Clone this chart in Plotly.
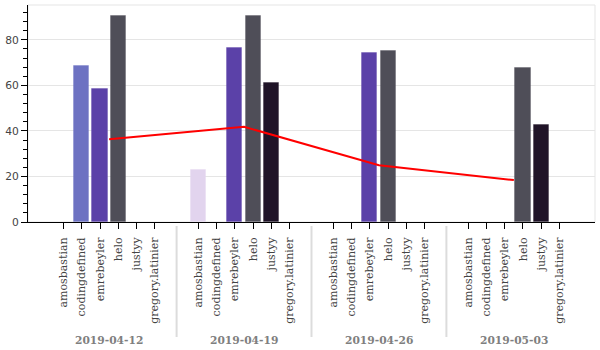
import plotly.graph_objects as go

dates = ["2019-04-12", "2019-04-19", "2019-04-26", "2019-05-03"]
names = ["amosbastian", "codingdefined", "emrebeyler", "helo", "justyy", "gregory.latinier"]
values_0412 = [None, 68.7, 58.4, 90.6, None, None]
values_0419 = [22.7, None, 76.6, 90.6, 61.2, None]
values_0426 = [None, None, 74.4, 75.0, None, None]
values_0503 = [None, None, None, 67.5, 42.7, None]
mean_line = [36.3, 41.8, 24.9, 18.4]
name_colors = {
    "amosbastian": (226, 212, 238),
    "codingdefined": (109, 114, 194),
    "emrebeyler": (91, 65, 168),
    "helo": (79, 78, 88),
    "justyy": (32, 20, 40),
    "gregory.latinier": (180, 180, 180),
}

groups = [values_0412, values_0419, values_0426, values_0503]
GROUP_PAD = 1.4
step = len(names) + GROUP_PAD

bx, by, fill, edge = [], [], [], []
tickvals, ticktext = [], []
for g, vals in enumerate(groups):
    for i, (n, v) in enumerate(zip(names, vals)):
        pos = g * step + i
        tickvals.append(pos)
        ticktext.append(n)
        if v is not None:
            bx.append(pos)
            by.append(v)
            r, gg, b = name_colors[n]
            fill.append(f"rgb({r},{gg},{b})")
            edge.append(f"rgba({r},{gg},{b},0.35)")

centers = [g * step + (len(names) - 1) / 2 for g in range(len(dates))]

fig = go.Figure()
fig.add_trace(go.Bar(x=bx, y=by, width=0.83,
                     marker=dict(color=fill, line=dict(color=edge, width=1)),
                     showlegend=False))
fig.add_trace(go.Scatter(x=centers, y=mean_line, mode="lines",
                         line=dict(color="red", width=2), showlegend=False))

x0 = -1.95
x1 = (len(dates) - 1) * step + len(names) - 1 + 1.95
plot_h = 217.0

shapes = [dict(type="rect", xref="paper", yref="paper", x0=0, x1=1, y0=0, y1=1,
               line=dict(color="#e5e5e5", width=1), layer="below")]
for g in range(1, len(dates)):
    sx = g * step - (GROUP_PAD + 1) / 2
    shapes.append(dict(type="line", xref="x", yref="paper", x0=sx, x1=sx,
                       y0=-4 / plot_h, y1=-115 / plot_h,
                       line=dict(color="#dcdcdc", width=2)))

annotations = []
for d, c in zip(dates, centers):
    annotations.append(dict(x=c, xref="x", y=-118 / plot_h, yref="paper",
                            text=f"<b>{d}</b>", showarrow=False,
                            xanchor="center", yanchor="middle",
                            font=dict(family="DejaVu Serif", size=10.7, color="#7f7f7f")))

fig.update_layout(
    width=600, height=350,
    margin=dict(l=26, r=5, t=5, b=128),
    paper_bgcolor="white", plot_bgcolor="white",
    shapes=shapes, annotations=annotations,
    bargap=0,
)
fig.update_xaxes(range=[x0, x1], tickvals=tickvals, ticktext=ticktext,
                 tickangle=-90, showgrid=False, zeroline=False,
                 showline=True, linecolor="black", linewidth=1,
                 ticks="outside", ticklen=6, tickcolor="black",
                 ticklabelstandoff=4,
                 tickfont=dict(family="DejaVu Serif", size=11, color="#444444"))
fig.update_yaxes(range=[0, 95.3], tick0=0, dtick=20, showgrid=True,
                 gridcolor="#e5e5e5", gridwidth=1, zeroline=False,
                 showline=True, linecolor="black", linewidth=1,
                 ticks="outside", ticklen=6, tickcolor="black",
                 minor=dict(dtick=4, ticklen=4, ticks="outside", tickcolor="black", showgrid=False),
                 tickfont=dict(family="DejaVu Sans", size=10.7, color="#444444"))

fig.write_html("out.html")
